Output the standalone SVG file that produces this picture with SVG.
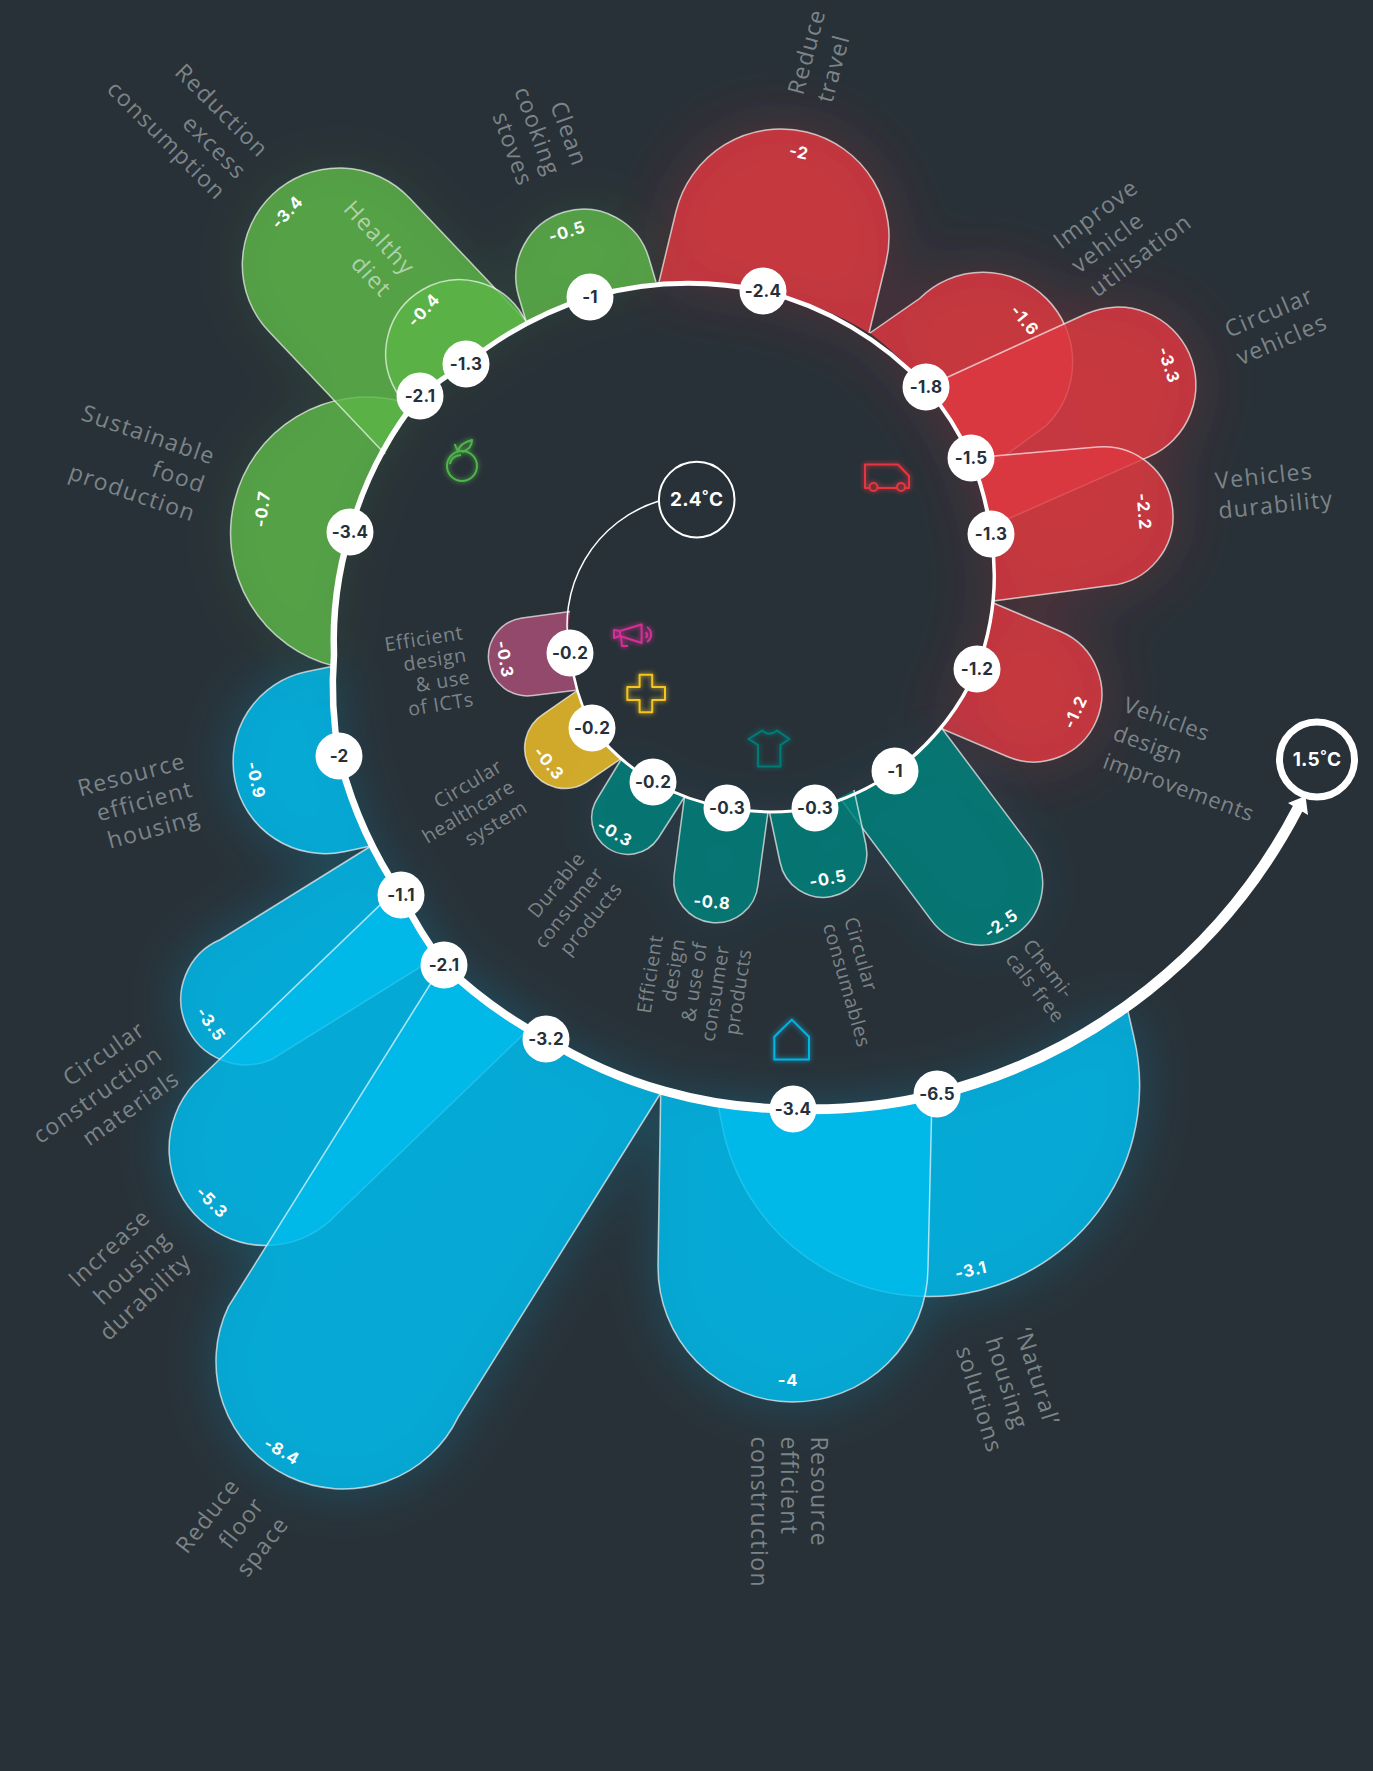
<svg xmlns="http://www.w3.org/2000/svg" width="1373" height="1771" viewBox="0 0 1373 1771">
<defs>
<filter id="gr" filterUnits="userSpaceOnUse" x="0" y="0" width="1373" height="1771"><feDropShadow dx="0" dy="0" stdDeviation="34" flood-color="#e23842" flood-opacity=".3"/></filter>
<filter id="gb" filterUnits="userSpaceOnUse" x="0" y="0" width="1373" height="1771"><feDropShadow dx="0" dy="0" stdDeviation="26" flood-color="#00bef0" flood-opacity=".28"/></filter>
<filter id="gg" filterUnits="userSpaceOnUse" x="0" y="0" width="1373" height="1771"><feDropShadow dx="0" dy="0" stdDeviation="26" flood-color="#5db648" flood-opacity=".14"/></filter>
<filter id="gt" filterUnits="userSpaceOnUse" x="0" y="0" width="1373" height="1771"><feDropShadow dx="0" dy="0" stdDeviation="26" flood-color="#3a6a90" flood-opacity=".22"/></filter>
<filter id="ic" x="-50%" y="-50%" width="200%" height="200%"><feGaussianBlur stdDeviation="2.5" result="b"/><feMerge><feMergeNode in="b"/><feMergeNode in="SourceGraphic"/></feMerge></filter>
</defs>
<style>
.o{fill:none;stroke:rgba(255,255,255,.66);stroke-width:1.5}
.red{fill:#de3841;fill-opacity:.82}
.blue{fill:#00bcee;fill-opacity:.82}
.green{fill:#5db648;fill-opacity:.82}
.teal{fill:#00837c;fill-opacity:.82}
.purple{fill:#a94f76;fill-opacity:.82}
.gold{fill:#f5c527;fill-opacity:.82}
.v{font:700 16.5px Inter,"Liberation Sans",sans-serif;fill:#fff;text-anchor:middle;dominant-baseline:central;letter-spacing:.8px}
.n{font:700 17px Inter,"Liberation Sans",sans-serif;fill:#26303a;text-anchor:middle;dominant-baseline:central;letter-spacing:.2px}
.c{fill:#fff}
.l{font:400 23px "Open Sans","Liberation Sans",sans-serif;fill:#7c8488;letter-spacing:1.4px}
.s{font:400 19.5px "Open Sans","Liberation Sans",sans-serif;fill:#7c8488;letter-spacing:.7px}
.e{text-anchor:end}
.r{fill:none;stroke:#fff}
.i{fill:none;stroke-width:2;stroke-linejoin:round}
</style>
<rect width="1373" height="1771" fill="#283138"/>
<g id="petals-red" filter="url(#gr)">
<g id="petal-reduce-travel"><path class="red" d="M659 282L676 211.5A90 90 0 0 1 886 262.5L869 333A330 330 0 0 0 763 291A365 365 0 0 0 659 282Z"/><path class="o" d="M659 282L676 211.5A90 90 0 0 1 886 262.5L869 333"/></g>
<g id="petal-improve-utilisation"><path class="red" d="M870 333L919.6 298.5A80 80 0 0 1 1046.4 425.5L980 474L971 458A300 300 0 0 0 926 387A330 330 0 0 0 870 333Z"/><path class="o" d="M870 333L919.6 298.5A80 80 0 0 1 1046.4 425.5L980 474"/></g>
<g id="petal-circular-vehicles"><path class="red" d="M926 387L1086.3 313.8A70 70 0 0 1 1149.6 456.4L992 526A300 300 0 0 0 971 458A300 300 0 0 0 926 387Z"/><path class="o" d="M926 387L1086.3 313.8A70 70 0 0 1 1149.6 456.4L992 526"/></g>
<g id="petal-durability"><path class="red" d="M971 458L1097 447A60 60 0 0 1 1110 585.5L993.4 601A265 265 0 0 0 991 534A300 300 0 0 0 971 458Z"/><path class="o" d="M971 458L1097 447A60 60 0 0 1 1110 585.5L993.4 601"/></g>
<g id="petal-design"><path class="red" d="M993.4 603L1060.6 631.5A60 60 0 0 1 1007.2 756.5L940 728A255 255 0 0 0 977 669A265 265 0 0 0 993.4 603Z"/><path class="o" d="M993.4 603L1060.6 631.5A60 60 0 0 1 1007.2 756.5L940 728"/></g>
</g>
<g id="petals-teal" filter="url(#gt)">
<g id="petal-chemicals"><path class="teal" d="M941.6 728L1030.4 846.4A55 55 0 0 1 931.4 920.4L840 798A250 250 0 0 0 895 771A255 255 0 0 0 941.6 728Z"/><path class="o" d="M941.6 728L1030.4 846.4A55 55 0 0 1 931.4 920.4L840 798"/></g>
<g id="petal-consumables"><path class="teal" d="M854 790L866 845A40 40 0 0 1 780 862L769.4 812A250 250 0 0 0 815 808A250 250 0 0 0 854 790Z"/><path class="o" d="M854 790L866 845A40 40 0 0 1 780 862L769.4 812"/></g>
<g id="petal-consumer-design"><path class="teal" d="M768 812L758 885A40 40 0 0 1 674 876L684.5 797A240 240 0 0 0 727 808A250 250 0 0 0 768 812Z"/><path class="o" d="M768 812L758 885A40 40 0 0 1 674 876L684.5 797"/></g>
<g id="petal-durable"><path class="teal" d="M684.5 797L658 838.5A33 33 0 0 1 598 797.5L622 758A230 230 0 0 0 653 782A240 240 0 0 0 684.5 797Z"/><path class="o" d="M684.5 797L658 838.5A33 33 0 0 1 598 797.5L622 758"/></g>
</g>
<g id="petal-healthcare"><path class="gold" d="M622 758L586.3 782.4A37 37 0 0 1 543.7 713.8L578 690A220 220 0 0 0 592 728A230 230 0 0 0 622 758Z"/><path class="o" d="M622 758L586.3 782.4A37 37 0 0 1 543.7 713.8L578 690"/></g>
<g id="petal-icts"><path class="purple" d="M578 690L533 695.5A37 37 0 0 1 522 618L570 611.4A130 130 0 0 0 570 653A220 220 0 0 0 578 690Z"/><path class="o" d="M578 690L533 695.5A37 37 0 0 1 522 618L570 611.4"/></g>
<g id="petals-blue" filter="url(#gb)">
<g id="petal-resource-housing"><path class="blue" d="M334 666L306 671.7A85 85 0 0 0 344 851.7L371 846A440 440 0 0 1 339 756A400 400 0 0 1 334 666Z"/><path class="o" d="M334 666L306 671.7A85 85 0 0 0 344 851.7L371 846"/></g>
<g id="petal-construction-materials"><path class="blue" d="M371 846L220.5 939.5A60 60 0 0 0 271.5 1059.5L438 956A450 450 0 0 1 401 895A440 440 0 0 1 371 846Z"/><path class="o" d="M371 846L220.5 939.5A60 60 0 0 0 271.5 1059.5L438 956"/></g>
<g id="petal-housing-durability"><path class="blue" d="M395 890.6L194.2 1083.8A90 90 0 0 0 337.2 1213.8L531 1027A455 455 0 0 1 444 965A450 450 0 0 1 401 895Z"/><path class="o" d="M395 890.6L194.2 1083.8A90 90 0 0 0 337.2 1213.8L531 1027"/></g>
<g id="petal-floor-space"><path class="blue" d="M441 967L228.4 1306.6A120 120 0 0 0 458.4 1416.6L662 1091A470 470 0 0 1 546 1039A455 455 0 0 1 444 965Z"/><path class="o" d="M441 967L228.4 1306.6A120 120 0 0 0 458.4 1416.6L662 1091"/></g>
<g id="petal-natural-housing"><path class="blue" d="M1127 1007L1133.8 1036.7A200 200 0 0 1 724.3 1135.2L717 1101A470 470 0 0 0 793 1109A520 520 0 0 0 937 1094A560 560 0 0 0 1127 1007Z"/><path class="o" d="M1127 1007L1133.8 1036.7A200 200 0 0 1 724.3 1135.2L717 1101"/></g>
<g id="petal-efficient-construction"><path class="blue" d="M660.7 1092L658 1266A130 130 0 0 0 928 1268L932 1095A520 520 0 0 1 793 1109A470 470 0 0 1 660.7 1092Z"/><path class="o" d="M660.7 1092L658 1266A130 130 0 0 0 928 1268L932 1095"/></g>
</g>
<g id="petals-green" filter="url(#gg)">
<g id="petal-food-production"><path class="green" d="M420 396L400 401A130 130 0 0 0 334 666A400 400 0 0 1 334 655A372 372 0 0 1 350 532A372 372 0 0 1 420 396Z"/><path class="o" d="M400 401A130 130 0 0 0 334 666"/></g>
<g id="petal-excess"><path class="green" d="M526 321L409.7 198.3A90 90 0 0 0 268.7 331.3L385 454A372 372 0 0 1 420 396A370 370 0 0 1 466 364A370 370 0 0 1 526 321Z"/><path class="o" d="M526 321L409.7 198.3A90 90 0 0 0 268.7 331.3L385 454"/></g>
<g id="petal-healthy-diet"><path class="green" d="M526 321L523 316A70 70 0 0 0 396 391L410 400L420 396A370 370 0 0 1 466 364A370 370 0 0 1 526 321Z"/><path class="o" d="M526 321L523 316A70 70 0 0 0 396 391L399 396"/></g>
<g id="petal-stoves"><path class="green" d="M526 321L518.7 296.5A60 60 0 0 1 648.7 257.5L656 282A365 365 0 0 0 590 297A370 370 0 0 0 526 321Z"/><path class="o" d="M526 321L518.7 296.5A60 60 0 0 1 648.7 257.5L656 282"/></g>
</g>
<g id="connectors">
<path class="r" stroke-width="1.5" d="M659 501A130 130 0 0 0 570 653"/>
<path class="r" stroke-width="2.5" d="M570 653A220 220 0 0 0 592 728"/>
<path class="r" stroke-width="3" d="M592 728A230 230 0 0 0 653 782A240 240 0 0 0 727 808A250 250 0 0 0 815 808A250 250 0 0 0 895 771"/>
<path class="r" stroke-width="3.5" d="M895 771A255 255 0 0 0 977 669A265 265 0 0 0 991 534"/>
<path class="r" stroke-width="4" d="M991 534A300 300 0 0 0 971 458A300 300 0 0 0 926 387"/>
<path class="r" stroke-width="4.5" d="M926 387A330 330 0 0 0 763 291"/>
<path class="r" stroke-width="5" d="M763 291A365 365 0 0 0 590 297A370 370 0 0 0 466 364"/>
<path class="r" stroke-width="5.5" d="M466 364A370 370 0 0 0 420 396A372 372 0 0 0 350 532"/>
<path class="r" stroke-width="6.5" d="M350 532A372 372 0 0 0 334 655A400 400 0 0 0 339 756"/>
<path class="r" stroke-width="7" d="M339 756A440 440 0 0 0 401 895A450 450 0 0 0 444 965"/>
<path class="r" stroke-width="8" d="M444 965A455 455 0 0 0 546 1039"/>
<path class="r" stroke-width="9" d="M546 1039A470 470 0 0 0 793 1109"/>
<path class="r" stroke-width="10" d="M793 1109A520 520 0 0 0 937 1094"/>
<path class="r" stroke-width="11" d="M937 1094A560 560 0 0 0 1298 808"/>
<path fill="#fff" d="M1305.5 796L1288 803L1308 815Z"/>
</g>
<g id="icon-food" class="i" stroke="#4fb548" filter="url(#ic)"><ellipse cx="462" cy="466" rx="15" ry="15"/><path d="M450 464Q451 456 461 455M458 451Q455 446 455 444M458 451Q460 443 472 440Q472 449 462 452"/></g>
<g id="icon-transport" class="i" stroke="#e5353f" filter="url(#ic)"><path d="M869.5 488H865V464.5H898L909 476V488H905M897 488H877.5"/><circle cx="873.5" cy="487" r="4"/><circle cx="901" cy="487" r="4"/></g>
<g id="icon-ict" class="i" stroke="#d62f96" filter="url(#ic)"><path d="M641.6 624.5V643L620 636V631ZM620 631L614 630V638L620 636M621 637L622 646H628M646 632A5 5 0 0 1 646 638M647 627A9 9 0 0 1 647 642"/></g>
<g id="icon-health" class="i" stroke="#f2c521" filter="url(#ic)"><path d="M639.6 674.7H652.2V687H665V700H652.2V712.2H639.6V700H627.3V687H639.6Z"/></g>
<g id="icon-consumer" class="i" stroke="#067b78" filter="url(#ic)"><path d="M758 745L748.6 739L762 730.6Q769.5 737 777 730.6L789.4 739L780.4 745V766.5H758Z"/></g>
<g id="icon-housing" class="i" stroke="#00b4e6" filter="url(#ic)"><path d="M791.8 1019.6L809 1036.7V1059.6H774.3V1036.7Z"/></g>
<g id="petal-values">
<text class="v" transform="translate(799 152) rotate(12)">-2</text>
<text class="v" transform="translate(567 231.5) rotate(-17)">-0.5</text>
<text class="v" transform="translate(287 212) rotate(-47)">-3.4</text>
<text class="v" transform="translate(423.5 310) rotate(-47)">-0.4</text>
<text class="v" transform="translate(262 509) rotate(-83)">-0.7</text>
<text class="v" transform="translate(256 780) rotate(78)">-0.9</text>
<text class="v" transform="translate(211 1024) rotate(55)">-3.5</text>
<text class="v" transform="translate(212 1202) rotate(45)">-5.3</text>
<text class="v" transform="translate(282 1451) rotate(30)">-8.4</text>
<text class="v" transform="translate(788 1380) rotate(0)">-4</text>
<text class="v" transform="translate(971 1270) rotate(-13)">-3.1</text>
<text class="v" transform="translate(1001 923.5) rotate(-35)">-2.5</text>
<text class="v" transform="translate(828 878.5) rotate(-10)">-0.5</text>
<text class="v" transform="translate(712 902) rotate(5)">-0.8</text>
<text class="v" transform="translate(615 833) rotate(30)">-0.3</text>
<text class="v" transform="translate(549 763) rotate(50)">-0.3</text>
<text class="v" transform="translate(505 659) rotate(80)">-0.3</text>
<text class="v" transform="translate(1075 712) rotate(-65)">-1.2</text>
<text class="v" transform="translate(1144 511.5) rotate(85)">-2.2</text>
<text class="v" transform="translate(1169 365) rotate(72)">-3.3</text>
<text class="v" transform="translate(1025 320) rotate(50)">-1.6</text>
</g>
<g id="labels">
<text class="l e" transform="translate(259 159) rotate(45)"><tspan x="0" y="0">Reduction</tspan><tspan x="0" y="31">excess</tspan><tspan x="0" y="60">consumption</tspan></text>
<text class="l e" transform="translate(405 277) rotate(47)" style="fill:rgba(255,255,255,.55)"><tspan x="0" y="0">Healthy</tspan><tspan x="0" y="32">diet</tspan></text>
<text class="l e" transform="translate(573 168) rotate(70)"><tspan x="0" y="0">Clean</tspan><tspan x="0" y="29">cooking</tspan><tspan x="0" y="58">stoves</tspan></text>
<text class="l" transform="translate(803 96) rotate(-75)"><tspan x="0" y="0">Reduce</tspan><tspan x="0" y="30">travel</tspan></text>
<text class="l" transform="translate(1061 250) rotate(-37)"><tspan x="0" y="0">Improve</tspan><tspan x="0" y="30">vehicle</tspan><tspan x="0" y="60">utilisation</tspan></text>
<text class="l" transform="translate(1229 338) rotate(-23)"><tspan x="0" y="0">Circular</tspan><tspan x="0" y="30">vehicles</tspan></text>
<text class="l" transform="translate(1216 489) rotate(-6)"><tspan x="0" y="0">Vehicles</tspan><tspan x="0" y="30">durability</tspan></text>
<text class="l" style="font-size:22px;letter-spacing:.8px" transform="translate(1122 711) rotate(20)"><tspan x="0" y="0">Vehicles</tspan><tspan x="0" y="30">design</tspan><tspan x="0" y="60">improvements</tspan></text>
<text class="l e" transform="translate(212 465) rotate(19)"><tspan x="0" y="0">Sustainable</tspan><tspan x="0" y="30">food</tspan><tspan x="0" y="60">production</tspan></text>
<text class="l e" transform="translate(187 768) rotate(-15)"><tspan x="0" y="0">Resource</tspan><tspan x="0" y="29">efficient</tspan><tspan x="0" y="58">housing</tspan></text>
<text class="l e" transform="translate(147 1033) rotate(-35)"><tspan x="0" y="0">Circular</tspan><tspan x="0" y="30">construction</tspan><tspan x="0" y="60">materials</tspan></text>
<text class="l e" transform="translate(152 1219) rotate(-43)"><tspan x="0" y="0">Increase</tspan><tspan x="0" y="30">housing</tspan><tspan x="0" y="60">durability</tspan></text>
<text class="l e" transform="translate(241 1486) rotate(-52)"><tspan x="0" y="0">Reduce</tspan><tspan x="0" y="31">floor</tspan><tspan x="0" y="62">space</tspan></text>
<text class="l" transform="translate(811 1436.5) rotate(90)"><tspan x="0" y="0">Resource</tspan><tspan x="0" y="30">efficient</tspan><tspan x="0" y="60">construction</tspan></text>
<text class="l" transform="translate(1015 1331) rotate(73)"><tspan x="0" y="0">‘Natural’</tspan><tspan x="0" y="31">housing</tspan><tspan x="0" y="62">solutions</tspan></text>
<text class="s e" transform="translate(464 639) rotate(-9)"><tspan x="0" y="0">Efficient</tspan><tspan x="0" y="22.5">design</tspan><tspan x="0" y="45">&amp; use</tspan><tspan x="0" y="67.5">of ICTs</tspan></text>
<text class="s e" transform="translate(504 770) rotate(-31)"><tspan x="0" y="0">Circular</tspan><tspan x="0" y="24">healthcare</tspan><tspan x="0" y="48">system</tspan></text>
<text class="s e" transform="translate(586 859) rotate(-51)"><tspan x="0" y="0">Durable</tspan><tspan x="0" y="24">consumer</tspan><tspan x="0" y="48">products</tspan></text>
<text class="s e" transform="translate(663 936) rotate(-81)"><tspan x="0" y="0">Efficient</tspan><tspan x="0" y="22.4">design</tspan><tspan x="0" y="44.8">&amp; use of</tspan><tspan x="0" y="67.2">consumer</tspan><tspan x="0" y="89.6">products</tspan></text>
<text class="s" transform="translate(844 919.6) rotate(74)"><tspan x="0" y="0">Circular</tspan><tspan x="0" y="22">consumables</tspan></text>
<text class="s" transform="translate(1022 946) rotate(52)"><tspan x="0" y="0">Chemi-</tspan><tspan x="0" y="22">cals free</tspan></text>
</g>
<g id="start-2-4"><circle cx="696.7" cy="499.6" r="37.8" fill="#283138" stroke="#fff" stroke-width="2"/><text class="n" x="696.7" y="499.6" style="fill:#fff;font-size:19px">2.4˚C</text></g>
<g id="end-1-5"><circle cx="1317" cy="759.4" r="37.5" fill="#283138" stroke="#fff" stroke-width="7"/><text class="n" x="1317" y="759.4" style="fill:#fff;font-size:19px">1.5˚C</text></g>
<g id="node-1"><circle class="c" cx="570" cy="653" r="23.5"/><text class="n" x="570" y="653">-0.2</text></g>
<g id="node-2"><circle class="c" cx="592" cy="728" r="23.5"/><text class="n" x="592" y="728">-0.2</text></g>
<g id="node-3"><circle class="c" cx="653" cy="782" r="23.5"/><text class="n" x="653" y="782">-0.2</text></g>
<g id="node-4"><circle class="c" cx="727" cy="808" r="23.5"/><text class="n" x="727" y="808">-0.3</text></g>
<g id="node-5"><circle class="c" cx="815" cy="808" r="23.5"/><text class="n" x="815" y="808">-0.3</text></g>
<g id="node-6"><circle class="c" cx="895" cy="771" r="23.5"/><text class="n" x="895" y="771">-1</text></g>
<g id="node-7"><circle class="c" cx="977" cy="669" r="23.5"/><text class="n" x="977" y="669">-1.2</text></g>
<g id="node-8"><circle class="c" cx="991" cy="534" r="23.5"/><text class="n" x="991" y="534">-1.3</text></g>
<g id="node-9"><circle class="c" cx="971" cy="458" r="23.5"/><text class="n" x="971" y="458">-1.5</text></g>
<g id="node-10"><circle class="c" cx="926" cy="387" r="23.5"/><text class="n" x="926" y="387">-1.8</text></g>
<g id="node-11"><circle class="c" cx="763" cy="291" r="23.5"/><text class="n" x="763" y="291">-2.4</text></g>
<g id="node-12"><circle class="c" cx="590" cy="297" r="23.5"/><text class="n" x="590" y="297">-1</text></g>
<g id="node-13"><circle class="c" cx="466" cy="364" r="23.5"/><text class="n" x="466" y="364">-1.3</text></g>
<g id="node-14"><circle class="c" cx="420" cy="396" r="23.5"/><text class="n" x="420" y="396">-2.1</text></g>
<g id="node-15"><circle class="c" cx="350" cy="532" r="23.5"/><text class="n" x="350" y="532">-3.4</text></g>
<g id="node-16"><circle class="c" cx="339" cy="756" r="23.5"/><text class="n" x="339" y="756">-2</text></g>
<g id="node-17"><circle class="c" cx="401" cy="895" r="23.5"/><text class="n" x="401" y="895">-1.1</text></g>
<g id="node-18"><circle class="c" cx="444" cy="965" r="23.5"/><text class="n" x="444" y="965">-2.1</text></g>
<g id="node-19"><circle class="c" cx="546" cy="1039" r="23.5"/><text class="n" x="546" y="1039">-3.2</text></g>
<g id="node-20"><circle class="c" cx="793" cy="1109" r="23.5"/><text class="n" x="793" y="1109">-3.4</text></g>
<g id="node-21"><circle class="c" cx="937" cy="1094" r="23.5"/><text class="n" x="937" y="1094">-6.5</text></g>
</svg>
